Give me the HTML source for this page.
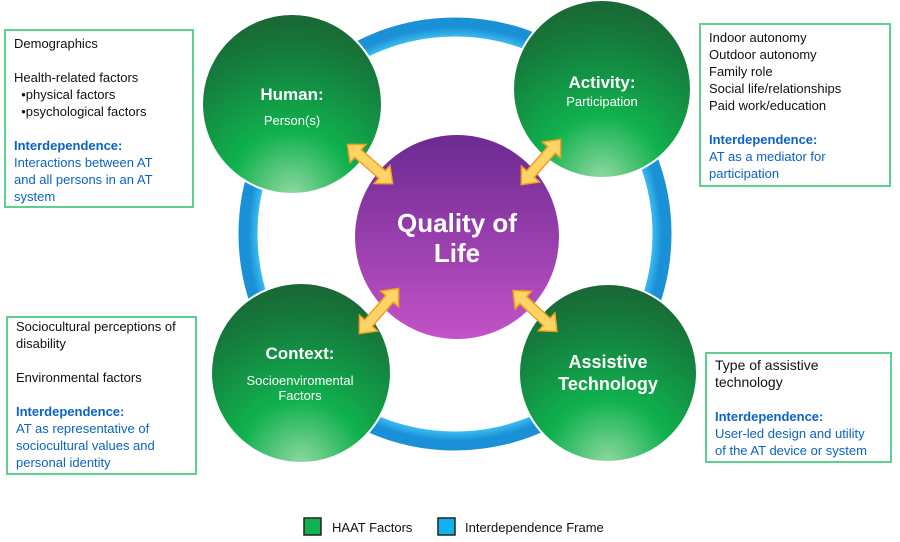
<!DOCTYPE html>
<html><head><meta charset="utf-8"><style>
body{margin:0;background:#fff;}
.box{position:absolute;border:2px solid #5fcf8f;box-sizing:border-box;font-family:"Liberation Sans",Arial,sans-serif;font-size:13px;line-height:17px;color:#111;padding:4px 8px;}
.b{color:#0b63c4;font-weight:bold;}
.bl{color:#0b63c4;}
</style></head><body>
<div style="position:relative;width:900px;height:542px;overflow:hidden;">
<svg width="900" height="542" style="position:absolute;left:0;top:0">
<defs>
<radialGradient id="g" cx="0.5" cy="1" r="1">
<stop offset="0" stop-color="#8fd8a0"/><stop offset="0.35" stop-color="#10b14e"/><stop offset="0.8" stop-color="#157a3c"/><stop offset="1" stop-color="#1a6634"/>
</radialGradient>
<linearGradient id="p" x1="0" y1="0" x2="0" y2="1">
<stop offset="0" stop-color="#6b2a92"/><stop offset="1" stop-color="#c352c6"/>
</linearGradient>
<radialGradient id="ring" cx="0.5" cy="0.5" r="0.5">
<stop offset="0.9" stop-color="#1a8fd8"/><stop offset="0.95" stop-color="#3cc0f2"/><stop offset="1" stop-color="#1a90d6"/>
</radialGradient>
<g id="arr"><polygon points="-30,0 -16,-12 -16,-5 16,-5 16,-12 30,0 16,12 16,5 -16,5 -16,12" fill="#ffd466" stroke="#f0a020" stroke-width="1.5"/></g>
</defs>
<circle cx="455" cy="234" r="207" fill="none" stroke="url(#ring)" stroke-width="19"/>
<circle cx="457" cy="237" r="102" fill="url(#p)"/>
<circle cx="292" cy="104" r="90" fill="url(#g)" stroke="#fff" stroke-width="2"/>
<circle cx="602" cy="89" r="89" fill="url(#g)" stroke="#fff" stroke-width="2"/>
<circle cx="301" cy="373" r="90" fill="url(#g)" stroke="#fff" stroke-width="2"/>
<circle cx="608" cy="373" r="89" fill="url(#g)" stroke="#fff" stroke-width="2"/>
<use href="#arr" transform="translate(370,164) rotate(41)"/>
<use href="#arr" transform="translate(541,162) rotate(-49)"/>
<use href="#arr" transform="translate(379,311) rotate(-49)"/>
<use href="#arr" transform="translate(535,311) rotate(43)"/>
<g font-family="Liberation Sans,Arial,sans-serif" fill="#fff" text-anchor="middle" font-weight="bold">
<text x="292" y="100" font-size="17">Human:</text>
<text x="292" y="125" font-size="13" font-weight="normal">Person(s)</text>
<text x="602" y="88" font-size="17">Activity:</text>
<text x="602" y="106" font-size="13" font-weight="normal">Participation</text>
<text x="300" y="359" font-size="17">Context:</text>
<text x="300" y="385" font-size="13" font-weight="normal">Socioenviromental</text>
<text x="300" y="400" font-size="13" font-weight="normal">Factors</text>
<text x="608" y="368" font-size="18">Assistive</text>
<text x="608" y="390" font-size="18">Technology</text>
<text x="457" y="232" font-size="26">Quality of</text>
<text x="457" y="262" font-size="26">Life</text>
</g>
<rect x="304" y="518" width="17" height="17" fill="#10b14e" stroke="#222" stroke-width="1.5"/>
<text x="332" y="532" font-family="Liberation Sans,Arial,sans-serif" font-size="13" fill="#111">HAAT Factors</text>
<rect x="438" y="518" width="17" height="17" fill="#12b2ee" stroke="#222" stroke-width="1.5"/>
<text x="465" y="532" font-family="Liberation Sans,Arial,sans-serif" font-size="13" fill="#111">Interdependence Frame</text>
</svg>
<div class="box" style="left:4px;top:29px;width:190px;height:179px;padding-right:16px;">Demographics<br><br>Health-related factors<br>&nbsp;&nbsp;•physical factors<br>&nbsp;&nbsp;•psychological factors<br><br><span class="b">Interdependence:</span><br><span class="bl">Interactions between AT<br>and all persons in an AT<br>system</span></div>
<div class="box" style="left:699px;top:23px;width:192px;height:164px;">Indoor autonomy<br>Outdoor autonomy<br>Family role<br>Social life/relationships<br>Paid work/education<br><br><span class="b">Interdependence:</span><br><span class="bl">AT as a mediator for<br>participation</span></div>
<div class="box" style="left:6px;top:316px;width:191px;height:159px;padding-top:0px;">Sociocultural perceptions of<br>disability<br><br>Environmental factors<br><br><span class="b">Interdependence:</span><br><span class="bl">AT as representative of<br>sociocultural values and<br>personal identity</span></div>
<div class="box" style="left:705px;top:352px;width:187px;height:111px;padding-top:3px;"><span style="font-size:14px">Type of assistive<br>technology</span><br><br><span class="b">Interdependence:</span><br><span class="bl">User-led design and utility<br>of the AT device or system</span></div>
</div>
</body></html>
